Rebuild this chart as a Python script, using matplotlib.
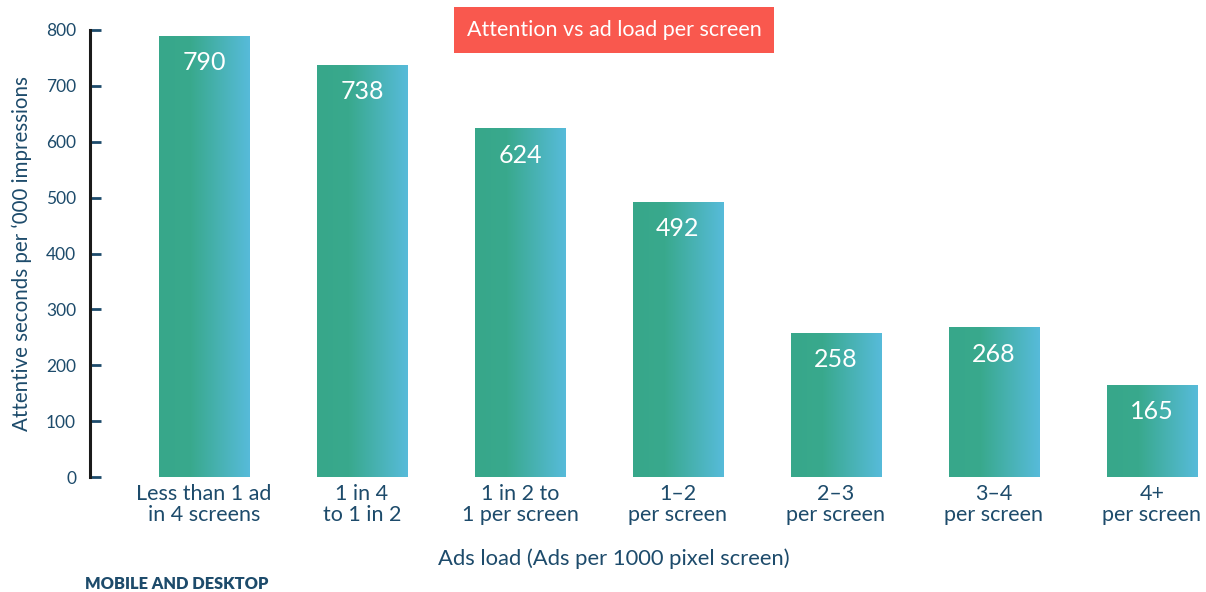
import numpy as np
import matplotlib
matplotlib.use("Agg")
import matplotlib.pyplot as plt
from matplotlib.colors import LinearSegmentedColormap

categories = ["Less than 1 ad\nin 4 screens", "1 in 4\nto 1 in 2", "1 in 2 to\n1 per screen",
              "1\u20132\nper screen", "2\u20133\nper screen", "3\u20134\nper screen", "4+\nper screen"]
values = [790, 738, 624, 492, 258, 268, 165]
yticks = [0, 100, 200, 300, 400, 500, 600, 700, 800]

navy = "#1D4B6B"
plt.rcParams["font.family"] = ["Lato", "DejaVu Sans"]

fig = plt.figure(figsize=(12.06, 5.92), dpi=100)
ax = fig.add_axes([90 / 1206, 115 / 592, 1116 / 1206, 447 / 592])

grad = LinearSegmentedColormap.from_list("g", [(0, "#37A78A"), (0.35, "#39A98D"), (1, "#57BBDA")])
gradient = np.linspace(0, 1, 256).reshape(1, -1)

x = np.arange(len(values))
bars = ax.bar(x, values, width=0.57, color="none", edgecolor="none")
for b, v in zip(bars, values):
    x0, w = b.get_x(), b.get_width()
    im = ax.imshow(gradient, cmap=grad, aspect="auto", extent=(x0, x0 + w, 0, v), zorder=2)
    im.set_clip_path(b)
    ax.text(b.get_x() + w / 2, v - 48, str(v), ha="center", va="center",
            color="white", fontsize=18, zorder=3)

ax.set_xlim(-0.7215, 6.342)
ax.set_ylim(0, 800)
ax.set_xticks(x)
ax.set_xticklabels(categories, fontsize=15.5, color=navy, linespacing=1.05)
ax.tick_params(axis="x", length=0, pad=5)
ax.set_yticks(yticks)
ax.tick_params(axis="y", direction="in", length=8, width=2, color=navy, labelsize=12.5,
               labelcolor=navy, pad=10)
for s in ["top", "right", "bottom"]:
    ax.spines[s].set_visible(False)
ax.spines["left"].set_linewidth(2.2)
ax.spines["left"].set_color("#1a1a1a")

ax.set_ylabel("Attentive seconds per \u2018000 impressions", fontsize=14.8, color=navy)
ax.yaxis.set_label_coords(-58 / 1116, 0.5)
ax.set_xlabel("Ads load (Ads per 1000 pixel screen)", fontsize=15.8, color=navy)
ax.xaxis.set_label_coords(0.5 - 34 / 1116, -82 / 447)
ax.xaxis.label.set_va("center")

fig.text(614 / 1206, 1 - 30 / 592, "Attention vs ad load per screen", ha="center", va="center",
         color="white", fontsize=15.5,
         bbox=dict(boxstyle="square,pad=0.6", facecolor="#F9584E", edgecolor="none"))
fig.text(85 / 1206, 1 - 584 / 592, "MOBILE AND DESKTOP", ha="left", va="center",
         color=navy, fontsize=11.8, fontweight="heavy")

fig.savefig("out.png", dpi=100)
